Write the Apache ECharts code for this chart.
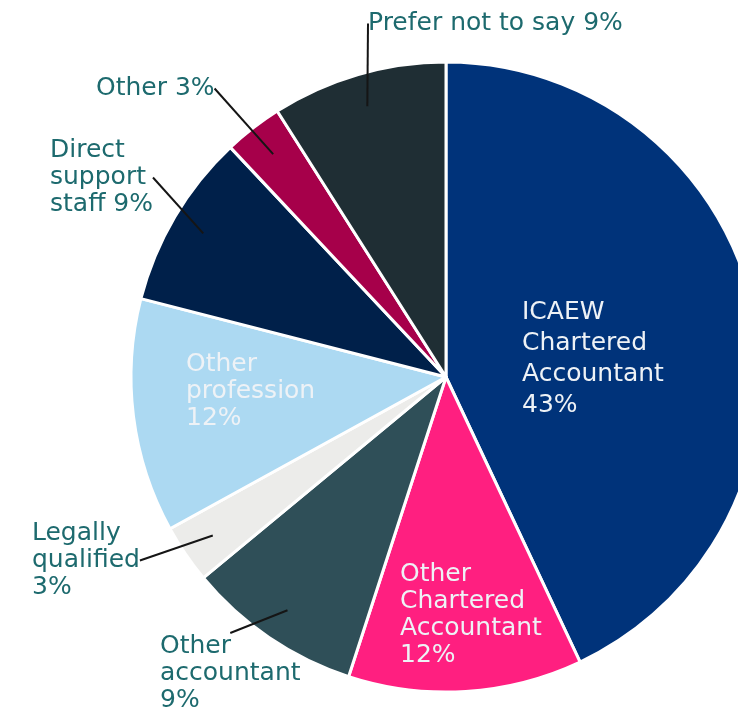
<!DOCTYPE html>
<html>
  <head>
    <meta charset="utf-8">
    <title>Membership breakdown</title>
    <script type="text/javascript" src="https://cdn.jsdelivr.net/npm/echarts@6/dist/echarts.min.js"></script>
    <style>
      html, body { margin: 0; padding: 0; background: #fff; }
      #pieChart { width: 738px; height: 714px; }
    </style>
  </head>
  <body>
    <div id="pieChart"></div>
    <script type="text/javascript">
      // data, clockwise from 12 o'clock
      var categories = ['ICAEW Chartered Accountant', 'Other Chartered Accountant', 'Other accountant',
        'Legally qualified', 'Other profession', 'Direct support staff', 'Other', 'Prefer not to say'];
      var shares = [43, 12, 9, 3, 12, 9, 3, 9];
      var labelTexts = ['ICAEW\nChartered\nAccountant', 'Other\nChartered\nAccountant', 'Other\naccountant',
        'Legally\nqualified', 'Other\nprofession', 'Direct\nsupport\nstaff', 'Other', 'Prefer not to say'];
      var sliceColors = ['#00337a', '#ff1f80', '#2f4f58', '#ececea', '#acd9f2', '#00204a', '#a6004a', '#1f2e34'];

      // label placement (top-left corner of each text block) and inside/outside
      var inside = [true, true, false, false, true, false, false, false];
      var labelPos = [[522, 297], [400, 561], [160, 633], [32, 520], [186, 351], [50, 137], [96, 75], [368, 10]];

      function labelText(i) {
        var sep = (i === 5 || i === 6 || i === 7) ? ' ' : '\n';
        return labelTexts[i] + sep + shares[i] + '%';
      }

      var chart = echarts.init(document.getElementById('pieChart'));

      // visible slices, carrying the white labels that sit inside
      var pieData = categories.map(function (name, i) {
        return {
          name: name,
          value: shares[i],
          itemStyle: { color: sliceColors[i] },
          label: {
            show: inside[i],
            color: '#eef2f6',
            lineHeight: i === 0 ? 31 : 27,
            formatter: labelText(i)
          }
        };
      });

      // a transparent smaller copy on top, so the leader lines start inside the slices
      var guideData = categories.map(function (name, i) {
        return {
          name: name,
          value: shares[i],
          label: {
            show: !inside[i],
            color: '#1d6a6e',
            lineHeight: 27,
            formatter: labelText(i)
          },
          labelLine: { show: !inside[i] }
        };
      });

      var labelFont = { fontFamily: 'DejaVu Sans', fontSize: 25, align: 'left' };
      function placeLabel(params) {
        var p = labelPos[params.dataIndex];
        return { x: p[0], y: p[1], align: 'left', verticalAlign: 'top' };
      }

      chart.setOption({
        animation: false,
        series: [{
          type: 'pie',
          z: 2,
          center: [446, 377],
          radius: 315,
          startAngle: 90,
          clockwise: true,
          avoidLabelOverlap: false,
          itemStyle: { borderColor: '#ffffff', borderWidth: 3 },
          label: Object.assign({ position: 'inside' }, labelFont),
          labelLine: { show: false },
          labelLayout: placeLabel,
          emphasis: { disabled: true },
          data: pieData
        }, {
          type: 'pie',
          z: 6,
          center: [446, 377],
          radius: 282,
          startAngle: 90,
          clockwise: true,
          silent: true,
          avoidLabelOverlap: false,
          itemStyle: { color: 'rgba(0,0,0,0)', borderWidth: 0 },
          label: Object.assign({ position: 'outside' }, labelFont),
          labelLine: {
            length: 0,
            length2: 0,
            lineStyle: { color: '#151515', width: 2 }
          },
          labelLayout: placeLabel,
          emphasis: { disabled: true },
          data: guideData
        }]
      });
    </script>
  </body>
</html>
